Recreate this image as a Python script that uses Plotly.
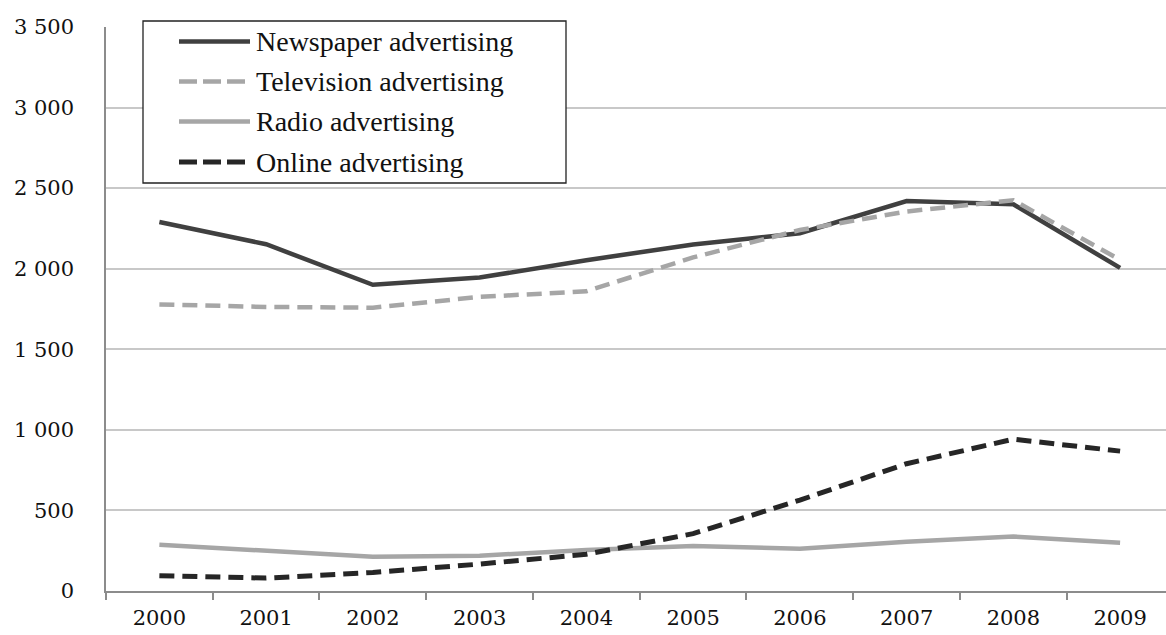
import plotly.graph_objects as go

years = ["2000", "2001", "2002", "2003", "2004", "2005", "2006", "2007", "2008", "2009"]
newspaper = [2290, 2152, 1900, 1945, 2053, 2150, 2220, 2420, 2400, 2005]
television = [1778, 1763, 1758, 1825, 1860, 2070, 2240, 2355, 2425, 2055]
radio = [287, 250, 212, 219, 254, 280, 262, 306, 338, 300]
online = [95, 80, 115, 167, 228, 356, 564, 790, 942, 868]

names = ["Newspaper advertising", "Television advertising", "Radio advertising", "Online advertising"]
colors = ["#404040", "#a6a6a6", "#a6a6a6", "#262626"]
dashes = ["solid", "15px,8px", "solid", "15px,8px"]
widths = [4.5, 4.5, 4.5, 5]
series = [newspaper, television, radio, online]

W, H = 1166, 635
L, R, T, B = 106, 0, 27, 44
pw, ph = W - L - R, H - T - B

TICKFONT = "DejaVu Serif"

fig = go.Figure()
for name, vals, c, d, w in zip(names, series, colors, dashes, widths):
    fig.add_trace(go.Scatter(x=years, y=vals, mode="lines", name=name,
                             line=dict(color=c, dash=d, width=w), showlegend=False))

def px_x(p):
    return (p - L) / pw

def px_y(p):
    return (H - B - p) / ph

shapes = []
annotations = []
# legend box
shapes.append(dict(type="rect", xref="paper", yref="paper",
                   x0=px_x(143), x1=px_x(566), y0=px_y(183), y1=px_y(21),
                   fillcolor="white", line=dict(color="#222222", width=1.3), layer="above"))
rows = [41.5, 81.5, 121.5, 162]
for name, c, d, w, ry in zip(names, colors, dashes, widths, rows):
    shapes.append(dict(type="line", xref="paper", yref="paper",
                       x0=px_x(179), x1=px_x(250), y0=px_y(ry), y1=px_y(ry),
                       line=dict(color=c, dash=("18px,6px" if d != "solid" else "solid"), width=w),
                       layer="above"))
    annotations.append(dict(xref="paper", yref="paper", x=px_x(254), y=px_y(ry),
                            xanchor="left", yanchor="middle", showarrow=False, text=name,
                            font=dict(family="Liberation Serif", size=28, color="#111111")))

fig.update_layout(
    width=W, height=H,
    margin=dict(l=L, r=R, t=T, b=B, pad=0, autoexpand=False),
    paper_bgcolor="white", plot_bgcolor="white",
    separators=". ",
    shapes=shapes, annotations=annotations,
    showlegend=False,
    font=dict(family=TICKFONT, size=21, color="#111111"),
)
fig.update_xaxes(
    type="category", range=[-0.5, 9.43], automargin=False,
    showline=True, linecolor="#8c8c8c", linewidth=1.5,
    showgrid=False, zeroline=False,
    ticks="outside", tickson="boundaries", ticklen=7, tickcolor="#8c8c8c", tickwidth=1.5,
    ticklabelstandoff=7,
    tickfont=dict(family=TICKFONT, size=21, color="#111111"),
)
fig.update_yaxes(
    range=[0, 3500], tickvals=[0, 500, 1000, 1500, 2000, 2500, 3000, 3500],
    tickformat=",d", automargin=False,
    showline=True, linecolor="#8c8c8c", linewidth=1.5,
    showgrid=True, gridcolor="#c8c8c8", gridwidth=1.5,
    zeroline=False, ticks="",
    ticklabelstandoff=26,
    tickfont=dict(family=TICKFONT, size=21, color="#111111"),
)

fig.write_html("out.html")
